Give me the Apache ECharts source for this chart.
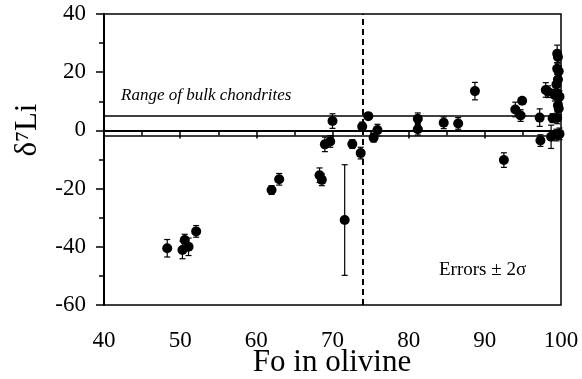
<!DOCTYPE html>
<html>
<head>
<meta charset="utf-8">
<script src="https://cdn.jsdelivr.net/npm/echarts@6/dist/echarts.min.js"></script>
<style>
  html, body { margin: 0; padding: 0; background: #fff; }
  #chart { width: 582px; height: 379px; }
</style>
</head>
<body>
<div id="chart"></div>
<script>
// Fo (forsterite content) of olivine
const foValues = [
  48.3, 50.3, 50.6, 51.1, 52.1, 62.0, 63.0, 68.3, 68.6, 69.0,
  69.7, 70.0, 71.6, 72.6, 73.7, 73.9, 74.7, 75.4, 75.9, 81.2,
  81.2, 84.6, 86.5, 88.7, 92.5, 94.0, 94.7, 94.9, 97.2, 97.3,
  98.0, 98.3, 98.9, 98.7, 99.5, 99.6, 99.5, 99.7, 99.6, 99.4,
  99.5, 99.8, 99.2, 99.6, 99.7, 99.5, 99.4, 99.8
]
// delta 7Li
const liValues = [
  -40.5, -41.1, -37.7, -40.0, -34.7, -20.5, -16.8, -15.4, -17.0, -4.8,
  -3.8, 3.2, -30.8, -4.7, -7.8, 1.3, 4.9, -2.5, 0.1, 4.0,
  0.4, 2.6, 2.4, 13.5, -10.2, 7.2, 5.1, 10.2, 4.4, -3.5,
  13.9, 13.3, 4.2, -2.2, 26.3, 25.2, 21.2, 20.3, 17.5, 15.8,
  12.8, 11.6, 12.1, 8.6, 7.5, 4.3, -1.6, -1.2
]
// 2 sigma
const errValues = [
  3, 3, 2, 3, 2, 1.5, 2, 2.5, 2, 2.5,
  2, 2.5, 19, 1.5, 2, 1.5, 1, 1.5, 2, 2,
  2, 2, 2, 3, 2.5, 2.5, 2, 1, 3, 2,
  2.5, 2, 1.5, 4, 3, 2, 2, 2, 2, 2,
  2, 2, 2, 2, 2, 2, 2, 2
]
// 球粒陨石范围
const chondriteRange = [5, -2]
const foBoundary = 74
const xTicks = { min: 40, max: 100, interval: 10 }
const yTicks = { min: -60, max: 40, interval: 20 }

const points = foValues.map((x, i) => [x, liValues[i], errValues[i]])
const serif = 'Liberation Serif'

// 误差线
const renderError = (params, api) => {
  const x = api.value(0)
  const y = api.value(1)
  const e = api.value(2)
  const top = api.coord([x, y + e])
  const bot = api.coord([x, y - e])
  const w = 3
  const style = { stroke: '#000', lineWidth: 1.2 }
  return {
    type: 'group',
    children: [
      { type: 'line', shape: { x1: top[0], y1: top[1], x2: bot[0], y2: bot[1] }, style },
      { type: 'line', shape: { x1: top[0] - w, y1: top[1], x2: top[0] + w, y2: top[1] }, style },
      { type: 'line', shape: { x1: bot[0] - w, y1: bot[1], x2: bot[0] + w, y2: bot[1] }, style }
    ]
  }
}

const axisCommon = {
  axisLine: { lineStyle: { color: '#000', width: 2 } },
  axisTick: { inside: false, length: 8, lineStyle: { color: '#000', width: 1.5 } },
  minorTick: { show: true, splitNumber: 2, length: 5, lineStyle: { color: '#000', width: 1.5 } },
  splitLine: { show: false },
  axisLabel: { color: '#000', fontFamily: serif, fontSize: 23 }
}

const chart = echarts.init(document.getElementById('chart'))
chart.setOption({
  animation: false,
  grid: {
    left: 104, right: 21, top: 14, bottom: 74,
    outerBoundsMode: 'none',
    containLabel: false,
    show: true, borderColor: '#000', borderWidth: 1.5
  },
  xAxis: {
    type: 'value',
    ...xTicks,
    ...axisCommon,
    axisLabel: { ...axisCommon.axisLabel, margin: 24 }
  },
  yAxis: {
    type: 'value',
    ...yTicks,
    ...axisCommon,
    axisLabel: { ...axisCommon.axisLabel, margin: 18 }
  },
  graphic: [
    {
      type: 'text', x: 332, y: 363, 
      style: {
        text: 'Fo in olivine', fill: '#000', font: '31px "Liberation Serif"',
        textAlign: 'center', textVerticalAlign: 'middle'
      }
    },
    {
      type: 'text', x: 28, y: 130, rotation: Math.PI / 2,
      style: {
        text: 'δ⁷Li', fill: '#000', font: '31px "Liberation Serif"',
        textAlign: 'center', textVerticalAlign: 'middle'
      }
    },
    {
      type: 'text', x: 121, y: 104,
      style: {
        text: 'Range of bulk chondrites', fill: '#000', font: 'italic 17px "Liberation Serif"',
        textAlign: 'left', textVerticalAlign: 'bottom'
      }
    },
    {
      type: 'text', x: 439, y: 280,
      style: {
        text: 'Errors ± 2σ', fill: '#000', font: '19px "Liberation Serif"',
        textAlign: 'left', textVerticalAlign: 'bottom'
      }
    }
  ],
  series: [
    {
      type: 'custom',
      renderItem: renderError,
      data: points,
      encode: { x: 0, y: 1 },
      z: 2
    },
    {
      type: 'scatter',
      data: points,
      symbol: 'circle',
      symbolSize: 10,
      itemStyle: { color: '#000', opacity: 1 },
      z: 3,
      markLine: {
        silent: true,
        symbol: 'none',
        label: { show: false },
        data: [
          { xAxis: foBoundary, lineStyle: { type: [6, 4], width: 2, color: '#000' } },
          { yAxis: chondriteRange[0], lineStyle: { type: 'solid', width: 1.5, color: '#000' } },
          { yAxis: chondriteRange[1], lineStyle: { type: 'solid', width: 1.5, color: '#000' } }
        ]
      }
    }
  ]
})
</script>
</body>
</html>
